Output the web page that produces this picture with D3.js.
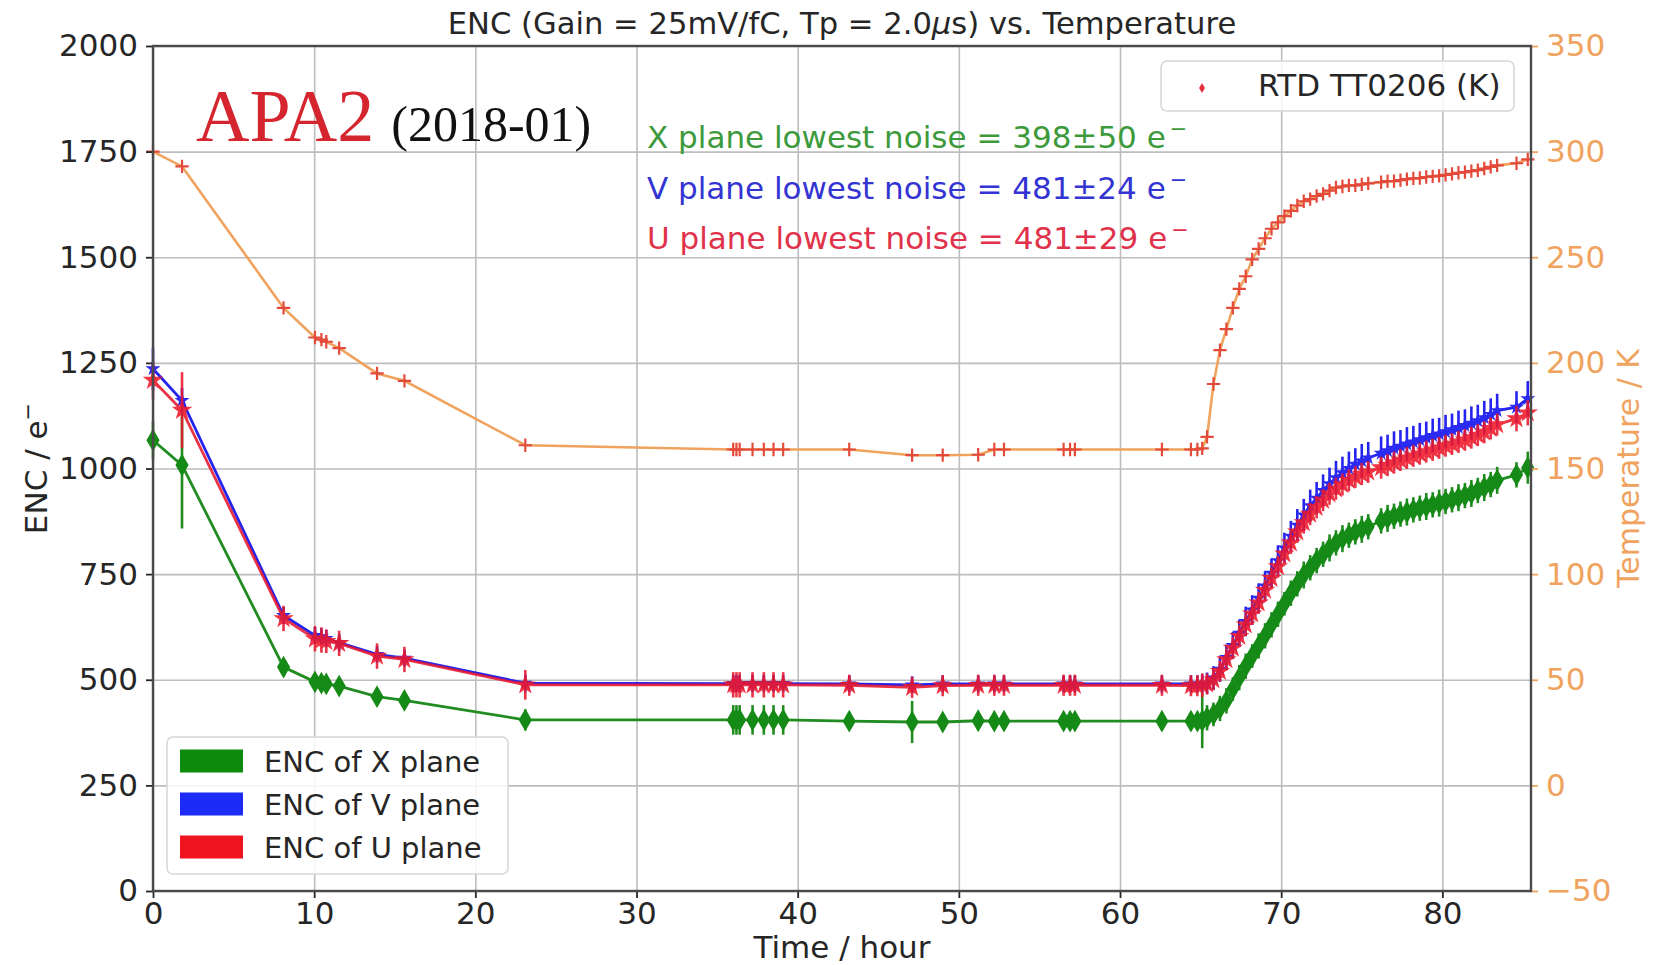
<!DOCTYPE html>
<html>
<head>
<meta charset="utf-8">
<title>ENC vs. Temperature</title>
<script src="https://d3js.org/d3.v7.min.js"></script>
<style>
  body { margin: 0; background: #fff; }
  text { font-family: 'DejaVu Sans', sans-serif; }
</style>
</head>
<body>
<svg width="1658" height="965"></svg>
<script>
// time of each measurement (hours)
const hours = [
  0.0, 1.8, 8.1, 10.05, 10.45, 10.75, 11.55, 13.9, 15.6, 23.1,
  36.0, 36.2, 36.4, 37.2, 37.9, 38.5, 39.1, 43.2, 47.1, 49.0,
  51.2, 52.2, 52.8, 56.5, 56.9, 57.2, 62.6, 64.4, 64.8, 65.1,
  65.4, 65.8, 66.2, 66.6, 67.0, 67.4, 67.8, 68.2, 68.6, 69.0,
  69.4, 69.8, 70.2, 70.6, 71.0, 71.4, 71.8, 72.2, 72.6, 73.0,
  73.4, 73.8, 74.2, 74.6, 75.0, 75.4, 76.2, 76.6, 77.0, 77.4,
  77.8, 78.2, 78.6, 79.0, 79.4, 79.8, 80.2, 80.6, 81.0, 81.4,
  81.8, 82.2, 82.6, 83.0, 83.4, 84.6, 85.3
];
// RTD TT0206 temperature (K)
const tempK = [
  300, 293, 226, 212, 211, 210, 207, 195, 191.5, 161,
  159, 159, 159, 159, 159, 159, 159, 159, 156.3, 156.3,
  156.5, 159, 159, 159, 159, 159, 159, 159, 159, 159.5,
  165, 190, 206, 216, 226, 235, 241, 249, 254, 259,
  263.5, 266.5, 269.5, 272, 274.5, 276.5, 277.5, 279, 280, 281.5,
  283, 283.5, 284, 284, 284.5, 285, 285.5, 286, 286, 286.5,
  287, 287.3, 287.5, 288, 288.3, 288.5, 289, 289.5, 290, 290.3,
  290.8, 291.2, 292, 292.8, 293.5, 294.5, 296.3
];
// ENC of X plane and its error
const encX = [
  1067, 1008, 530, 495, 492, 490, 485, 460, 451, 405,
  405, 405, 405, 405, 405, 405, 405, 402, 400, 400,
  403, 402, 402, 402, 402, 402, 402, 402, 402, 403,
  410, 418, 432, 450, 478, 505, 532, 556, 580, 604,
  630, 655, 680, 705, 727, 748, 765, 782, 797, 812,
  824, 834, 842, 850, 856, 862, 876, 882, 887, 892,
  897, 902, 906, 910, 914, 918, 922, 926, 931, 936,
  941, 948, 955, 962, 972, 985, 1002
];
const errX = [
  45, 150, 15, 15, 15, 15, 15, 14, 14, 25,
  35, 35, 35, 35, 35, 35, 35, 18, 50, 18,
  18, 18, 18, 18, 18, 18, 20, 20, 20, 65,
  30, 28, 30, 30, 28, 30, 30, 28, 30, 30,
  30, 30, 28, 30, 30, 32, 30, 30, 30, 32,
  30, 32, 30, 30, 32, 30, 30, 32, 30, 30,
  32, 30, 30, 32, 30, 32, 30, 30, 32, 30,
  32, 30, 32, 30, 32, 30, 38
];
// ENC of V plane and its error
const encV = [
  1236, 1161, 652, 605, 602, 598, 588, 560, 551, 492,
  491, 491, 491, 491, 491, 491, 491, 490, 488, 490,
  490, 490, 490, 490, 490, 490, 490, 490, 490, 491,
  492, 504, 525, 553, 581, 610, 638, 665, 693, 722,
  752, 782, 812, 840, 866, 890, 912, 930, 948, 964,
  978, 990, 1000, 1010, 1018, 1025, 1036, 1042, 1048, 1053,
  1058, 1063, 1068, 1073, 1078, 1082, 1087, 1092, 1097, 1102,
  1107, 1113, 1120, 1128, 1137, 1145, 1165
];
const errV = [
  50, 30, 20, 20, 20, 20, 20, 20, 20, 20,
  20, 20, 20, 20, 20, 20, 20, 20, 20, 20,
  20, 20, 20, 20, 20, 20, 20, 20, 20, 22,
  25, 28, 30, 30, 32, 32, 35, 35, 35, 35,
  35, 36, 36, 36, 38, 38, 38, 38, 38, 38,
  40, 38, 40, 38, 40, 38, 40, 38, 40, 38,
  40, 38, 40, 38, 40, 38, 40, 38, 40, 38,
  40, 38, 40, 38, 40, 38, 42
];
// ENC of U plane and its error
const encU = [
  1209, 1138, 645, 597, 594, 591, 586, 556, 548, 488,
  488, 488, 488, 488, 488, 488, 488, 487, 482, 486,
  487, 487, 487, 487, 487, 487, 487, 486, 486, 487,
  490, 500, 520, 548, 575, 603, 630, 656, 682, 712,
  740, 768, 798, 824, 850, 872, 892, 908, 925, 940,
  952, 962, 972, 980, 987, 992, 1002, 1008, 1014, 1020,
  1025, 1030, 1035, 1040, 1044, 1049, 1054, 1058, 1063, 1068,
  1073, 1079, 1086, 1095, 1104, 1118, 1132
];
const errU = [
  45, 90, 30, 30, 30, 28, 30, 30, 30, 35,
  30, 30, 30, 30, 30, 30, 30, 25, 25, 25,
  25, 25, 25, 25, 25, 25, 25, 25, 25, 28,
  25, 25, 25, 26, 26, 26, 26, 26, 26, 26,
  26, 26, 26, 26, 26, 26, 26, 26, 26, 26,
  26, 26, 26, 26, 26, 26, 26, 26, 26, 26,
  26, 26, 26, 26, 26, 26, 26, 26, 26, 26,
  26, 26, 26, 26, 26, 30, 30
];

const timeTicks = [0, 10, 20, 30, 40, 50, 60, 70, 80];
const encTicks = [0, 250, 500, 750, 1000, 1250, 1500, 1750, 2000];
const tempTicks = [-50, 0, 50, 100, 150, 200, 250, 300, 350];
const planeNames = ['ENC of X plane', 'ENC of V plane', 'ENC of U plane'];
const noiseNotes = [
  'X plane lowest noise = 398±50 e',
  'V plane lowest noise = 481±24 e',
  'U plane lowest noise = 481±29 e'
];

const svg = d3.select('svg');
const m = { left: 153, top: 46, right: 1531, bottom: 891 };

const x = d3.scaleLinear().domain([0, 85.5]).range([m.left, m.right]);
const y = d3.scaleLinear().domain([0, 2000]).range([m.bottom, m.top]);
const yT = d3.scaleLinear().domain([-50, 350]).range([m.bottom, m.top]);

const tickColor = '#262626';
const tempColor = '#f0a35e';
const plain = (v) => (v < 0 ? '\u2212' + Math.abs(v) : '' + v);

// grid
svg.append('g')
  .attr('transform', `translate(0,${m.bottom})`)
  .call(d3.axisBottom(x).tickValues(timeTicks).tickSize(-(m.bottom - m.top)).tickFormat(''))
  .call(g => g.select('.domain').remove())
  .selectAll('line').attr('stroke', '#bdbdbd').attr('stroke-width', 1.6);
svg.append('g')
  .attr('transform', `translate(${m.left},0)`)
  .call(d3.axisLeft(y).tickValues(encTicks).tickSize(-(m.right - m.left)).tickFormat(''))
  .call(g => g.select('.domain').remove())
  .selectAll('line').attr('stroke', '#bdbdbd').attr('stroke-width', 1.6);

// temperature curve
const tempPts = hours.map((h, i) => [h, tempK[i]]);
svg.append('path')
  .datum(tempPts)
  .attr('fill', 'none')
  .attr('stroke', tempColor)
  .attr('stroke-width', 2.6)
  .attr('d', d3.line().x(d => x(d[0])).y(d => yT(d[1])));
const plusType = d3.symbolPlus || d3.symbolCross;
svg.append('g')
  .selectAll('path')
  .data(tempPts)
  .join('path')
  .attr('transform', d => `translate(${x(d[0])},${yT(d[1])})`)
  .attr('d', d3.symbol().type(plusType).size(60))
  .attr('fill', 'none')
  .attr('stroke', '#e44a3a')
  .attr('stroke-width', 2.2);

// ENC series
const series = [
  { vals: encX, errs: errX, line: '#218c21', mark: '#168a16', sym: d3.symbolDiamond, size: 150, op: 1 },
  { vals: encV, errs: errV, line: '#2424ee', mark: '#2a2af2', sym: d3.symbolStar, size: 70, op: 1 },
  { vals: encU, errs: errU, line: '#e8182e', mark: '#f01828', sym: d3.symbolStar, size: 130, op: 0.88 }
];

series.forEach(s => {
  const pts = hours.map((h, i) => ({ h: h, v: s.vals[i], e: s.errs[i] }));
  const g = svg.append('g').attr('opacity', s.op);
  g.append('g')
    .selectAll('line')
    .data(pts)
    .join('line')
    .attr('x1', d => x(d.h)).attr('x2', d => x(d.h))
    .attr('y1', d => y(d.v - d.e)).attr('y2', d => y(d.v + d.e))
    .attr('stroke', s.line)
    .attr('stroke-width', 2.6);
  g.append('path')
    .datum(pts)
    .attr('fill', 'none')
    .attr('stroke', s.line)
    .attr('stroke-width', 2.8)
    .attr('d', d3.line().x(d => x(d.h)).y(d => y(d.v)));
  g.append('g')
    .selectAll('path')
    .data(pts)
    .join('path')
    .attr('transform', d => `translate(${x(d.h)},${y(d.v)})`)
    .attr('d', d3.symbol().type(s.sym).size(s.size))
    .attr('fill', s.mark);
});

// axes
const styleAxis = (g, color, size) => {
  g.select('.domain').remove();
  g.selectAll('line').attr('stroke', color).attr('stroke-width', 1.8);
  g.selectAll('text').attr('fill', color).style('font-size', size + 'px');
};
svg.append('g')
  .attr('transform', `translate(0,${m.bottom})`)
  .call(d3.axisBottom(x).tickValues(timeTicks).tickFormat(plain).tickSize(7).tickPadding(4))
  .call(g => styleAxis(g, tickColor, 31));
svg.append('g')
  .attr('transform', `translate(${m.left},0)`)
  .call(d3.axisLeft(y).tickValues(encTicks).tickFormat(plain).tickSize(7).tickPadding(8))
  .call(g => styleAxis(g, tickColor, 31));
svg.append('g')
  .attr('transform', `translate(${m.right},0)`)
  .call(d3.axisRight(yT).tickValues(tempTicks).tickFormat(plain).tickSize(7).tickPadding(8))
  .call(g => styleAxis(g, tempColor, 31));

// spines
svg.append('rect')
  .attr('x', m.left).attr('y', m.top)
  .attr('width', m.right - m.left).attr('height', m.bottom - m.top)
  .attr('fill', 'none').attr('stroke', '#4a4a4a').attr('stroke-width', 2.4);

// title and axis labels
svg.append('text')
  .attr('x', (m.left + m.right) / 2).attr('y', 34)
  .attr('text-anchor', 'middle').attr('fill', tickColor)
  .style('font-size', '30.6px')
  .html('ENC (Gain = 25mV/fC, Tp = 2.0<tspan font-style="italic">μ</tspan>s) vs. Temperature');

svg.append('text')
  .attr('x', (m.left + m.right) / 2).attr('y', 958)
  .attr('text-anchor', 'middle').attr('fill', tickColor)
  .style('font-size', '31px')
  .text('Time / hour');

const yLab = svg.append('text')
  .attr('transform', `translate(47,${(m.top + m.bottom) / 2}) rotate(-90)`)
  .attr('text-anchor', 'middle').attr('fill', tickColor)
  .style('font-size', '31px');
yLab.append('tspan').text('ENC / e');
yLab.append('tspan').attr('dy', -12).style('font-size', '21px').text('\u2212');

svg.append('text')
  .attr('transform', `translate(1639,${(m.top + m.bottom) / 2}) rotate(-90)`)
  .attr('text-anchor', 'middle').attr('fill', tempColor)
  .style('font-size', '30px')
  .text('Temperature / K');

// APA2 tag
const tag = svg.append('text')
  .attr('x', 196).attr('y', 141)
  .style('font-family', "'Liberation Serif', 'DejaVu Serif', serif");
tag.append('tspan').attr('fill', '#d5262f').style('font-size', '74px').text('APA2');
tag.append('tspan').attr('fill', '#111').attr('dx', 17).style('font-size', '50px').text('(2018-01)');

// lowest noise notes
const noteColors = ['#3c9a3c', '#3434d2', '#e0324a'];
noiseNotes.forEach((t, i) => {
  const n = svg.append('text')
    .attr('x', 647).attr('y', 148 + i * 50.5)
    .attr('fill', noteColors[i])
    .style('font-size', '31px');
  n.append('tspan').text(t);
  n.append('tspan').attr('dy', -12).attr('dx', 4).style('font-size', '21px').text('\u2212');
});

// legend: temperature
const lg1 = svg.append('g');
lg1.append('rect')
  .attr('x', 1161).attr('y', 61).attr('width', 353).attr('height', 50).attr('rx', 6)
  .attr('fill', '#fff').attr('fill-opacity', 0.85)
  .attr('stroke', '#d6d6d6').attr('stroke-width', 1.5);
lg1.append('path')
  .attr('transform', 'translate(1202,88)')
  .attr('d', d3.symbol().type(d3.symbolDiamond).size(30))
  .attr('fill', '#e0303c');
lg1.append('text')
  .attr('x', 1258).attr('y', 96)
  .attr('fill', tickColor)
  .style('font-size', '31px')
  .text('RTD TT0206 (K)');

// legend: planes
const patchColors = ['#0b8a0b', '#1c2cf6', '#f0141f'];
const lg2 = svg.append('g');
lg2.append('rect')
  .attr('x', 167).attr('y', 737).attr('width', 341).attr('height', 137).attr('rx', 6)
  .attr('fill', '#fff').attr('fill-opacity', 0.85)
  .attr('stroke', '#d6d6d6').attr('stroke-width', 1.5);
planeNames.forEach((name, i) => {
  const cy = 761 + i * 43;
  lg2.append('rect')
    .attr('x', 180).attr('y', cy - 11.5).attr('width', 63).attr('height', 23)
    .attr('fill', patchColors[i]);
  lg2.append('text')
    .attr('x', 264).attr('y', cy + 10.5)
    .attr('fill', tickColor)
    .style('font-size', '29px')
    .text(name);
});
</script>
</body>
</html>
